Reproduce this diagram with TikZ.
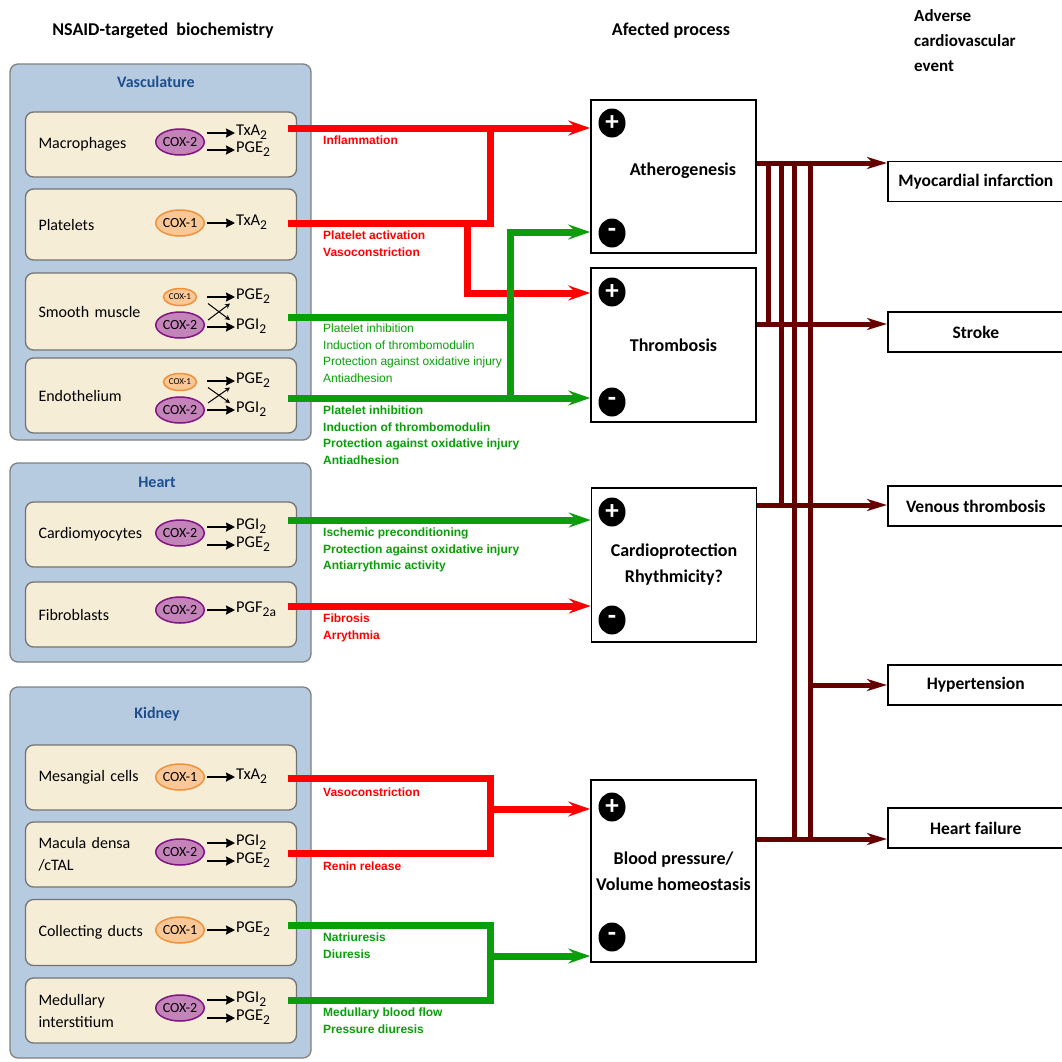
\documentclass[tikz,border=0pt]{standalone}
\usepackage{fontspec}
\setmainfont{Carlito}
\newfontfamily\arialfont{Liberation Sans}
\usepackage{tikz}
\usetikzlibrary{shapes,arrows.meta}
\definecolor{panelblue}{RGB}{182,203,224}
\definecolor{cellbeige}{RGB}{246,237,215}
\definecolor{titleblue}{RGB}{31,78,140}
\definecolor{coxtwofill}{RGB}{196,132,186}
\definecolor{coxtwoedge}{RGB}{128,20,128}
\definecolor{coxonefill}{RGB}{250,200,150}
\definecolor{coxoneedge}{RGB}{240,145,60}
\definecolor{inhred}{RGB}{255,0,0}
\definecolor{inhgreen}{RGB}{10,158,10}
\definecolor{busred}{RGB}{102,0,0}
\newcommand{\lowix}[1]{\raisebox{-0.5ex}{\fontsize{13.5}{13.5}\selectfont #1}}
\tikzstyle{panel} = [rectangle, draw=gray, fill=panelblue, rounded corners=8pt, line width=1.3pt, minimum width=301pt]
\tikzstyle{organ} = [font=\fontsize{16}{19}\selectfont\bfseries, text=titleblue]
\tikzstyle{cell} = [rectangle, draw=gray!90!black, fill=cellbeige, rounded corners=8pt, line width=1.3pt,
    text width=245pt, inner xsep=13pt, align=left, font=\fontsize{16}{22}\selectfont]
\tikzstyle{coxtwo} = [ellipse, draw=coxtwoedge, fill=coxtwofill, line width=1.5pt, inner sep=0pt,
    minimum width=47pt, minimum height=26pt, font=\fontsize{14}{14}\selectfont]
\tikzstyle{coxone} = [coxtwo, draw=coxoneedge, fill=coxonefill]
\tikzstyle{coxsmall} = [coxone, minimum width=33pt, minimum height=17pt, font=\fontsize{9}{10}\selectfont]
\tikzstyle{product} = [anchor=mid west, inner sep=1pt, font=\fontsize{16.5}{18}\selectfont]
\tikzstyle{process} = [rectangle, draw, line width=1.6pt, minimum width=165pt, align=center,
    font=\fontsize{18}{26}\selectfont\bfseries]
\tikzstyle{sign} = [ellipse, fill=black, text=white, minimum width=27pt, minimum height=29pt, inner sep=0pt,
    font=\fontsize{27}{27}\selectfont\bfseries]
\tikzstyle{event} = [rectangle, draw, line width=1.6pt, anchor=west, minimum width=176pt, minimum height=40pt,
    font=\fontsize{17.5}{20}\selectfont\bfseries]
\tikzstyle{effect} = [anchor=north west, inner sep=0pt, align=left, font=\arialfont\fontsize{12}{16.7}\selectfont\bfseries]
\tikzstyle{heading} = [font=\fontsize{18}{25}\selectfont\bfseries]
\tikzstyle{line} = [draw, line width=1.8pt, -{Stealth[length=9pt,width=9pt,inset=1pt]}]
\tikzstyle{thinline} = [draw, line width=1pt, -{Stealth[length=5pt,width=5pt]}]
\tikzstyle{redbar} = [draw=inhred, line width=7pt]
\tikzstyle{redline} = [redbar, -{Stealth[length=22pt,width=15pt,inset=8pt]}]
\tikzstyle{greenbar} = [draw=inhgreen, line width=7pt]
\tikzstyle{greenline} = [greenbar, -{Stealth[length=22pt,width=15pt,inset=8pt]}]
\tikzstyle{busbar} = [draw=busred, line width=5pt]
\tikzstyle{busline} = [busbar, -{Stealth[length=20pt,width=12pt,inset=6pt]}]
\begin{document}
\begin{tikzpicture}[x=1pt, y=-1pt]
    \useasboundingbox (0,0) rectangle (1062,1061);
    \clip (0,0) rectangle (1062,1061);
    \fill [white] (0,0) rectangle (1062,1061);

    % Place nodes
    \node [heading] (hdrleft) at (163,31) {NSAID-targeted~ biochemistry};
    \node [heading] (hdrmid) at (671,31) {Afected process};
    \node [heading, font=\fontsize{17}{25}\selectfont\bfseries, anchor=north west, align=left, inner sep=0pt] (hdrright) at (914,9) {Adverse\\cardiovascular\\event};

    % vasculature
    \node [panel, minimum height=376pt] (vasc) at (160.5,252) {};
    \node [organ] (vasctitle) at (156,82) {Vasculature};
    \node [cell, minimum height=65pt] (macro) at (161,144.5) {Macrophages};
    \node [cell, minimum height=71pt] (plat) at (161,224.5) {Platelets};
    \node [cell, minimum height=77pt] (smooth) at (161,311.5) {Smooth muscle};
    \node [cell, minimum height=75pt] (endo) at (161,395.5) {Endothelium};
    \node [coxtwo] (macroc) at (180,142) {COX-2};
    \node [product] (macrop1) at (235,133) {TxA\lowix{2}};
    \node [product] (macrop2) at (235,150) {PGE\lowix{2}};
    \node [coxone] (platc) at (180,223) {COX-1};
    \node [product] (platp) at (235,223) {TxA\lowix{2}};
    \node [coxsmall] (smoothc1) at (180,297) {COX-1};
    \node [coxtwo] (smoothc2) at (180,325) {COX-2};
    \node [product] (smoothp1) at (235,297) {PGE\lowix{2}};
    \node [product] (smoothp2) at (235,327) {PGI\lowix{2}};
    \node [coxsmall] (endoc1) at (180,382) {COX-1};
    \node [coxtwo] (endoc2) at (180,410) {COX-2};
    \node [product] (endop1) at (235,381) {PGE\lowix{2}};
    \node [product] (endop2) at (235,410) {PGI\lowix{2}};

    % heart
    \node [panel, minimum height=199pt] (heart) at (160.5,562.5) {};
    \node [organ] (hearttitle) at (157,482) {Heart};
    \node [cell, minimum height=65pt] (cmyo) at (161,534.5) {Cardiomyocytes};
    \node [cell, minimum height=65pt] (fibro) at (161,614.5) {Fibroblasts};
    \node [coxtwo] (cmyoc) at (180,533) {COX-2};
    \node [product] (cmyop1) at (235,527) {PGI\lowix{2}};
    \node [product] (cmyop2) at (235,545) {PGE\lowix{2}};
    \node [coxtwo] (fibroc) at (180,610) {COX-2};
    \node [product] (fibrop) at (235,610) {PGF\lowix{2a}};

    % kidney
    \node [panel, minimum height=371pt] (kidney) at (160.5,872.5) {};
    \node [organ] (kidneytitle) at (157,714) {Kidney};
    \node [cell, minimum height=65pt] (mesang) at (161,777.5) {Mesangial cells};
    \node [cell, minimum height=65pt] (macden) at (161,854.5) {Macula densa\\/cTAL};
    \node [cell, minimum height=66pt] (colduct) at (161,932.5) {Collecting ducts};
    \node [cell, minimum height=65pt] (medint) at (161,1010.5) {Medullary\\interstitium};
    \node [coxone] (mesangc) at (180,777) {COX-1};
    \node [product] (mesangp) at (235,777) {TxA\lowix{2}};
    \node [coxtwo] (macdenc) at (180,852) {COX-2};
    \node [product] (macdenp1) at (235,843) {PGI\lowix{2}};
    \node [product] (macdenp2) at (235,861) {PGE\lowix{2}};
    \node [coxone] (colductc) at (180,930) {COX-1};
    \node [product] (colductp) at (235,930) {PGE\lowix{2}};
    \node [coxtwo] (medintc) at (180,1008) {COX-2};
    \node [product] (medintp1) at (235,1000) {PGI\lowix{2}};
    \node [product] (medintp2) at (235,1018) {PGE\lowix{2}};

    % affected processes
    \node [process, minimum height=153pt] (athero) at (673.5,176.5) {\hspace*{19pt}\raisebox{6pt}[\height][\depth]{Atherogenesis}};
    \node [process, minimum height=154pt] (thromb) at (673.5,345) {Thrombosis};
    \node [process, minimum height=154pt] (cardprot) at (674,565) {Cardioprotection\\Rhythmicity?};
    \node [process, minimum height=182pt] (bpvol) at (673.5,871) {Blood pressure/\\Volume homeostasis};
    \node [sign] (atheroplus) at (612,123) {+};
    \node [sign] (atherominus) at (612,233) {-};
    \node [sign] (thrombplus) at (612,292) {+};
    \node [sign] (thrombminus) at (612,402) {-};
    \node [sign] (cardprotplus) at (612,512) {+};
    \node [sign] (cardprotminus) at (612,620) {-};
    \node [sign] (bpvolplus) at (612,807) {+};
    \node [sign] (bpvolminus) at (612,937) {-};

    % adverse events
    \node [event] (mi) at (887,181.5) {Myocardial infarction};
    \node [event] (stroke) at (887,332) {Stroke};
    \node [event] (vt) at (887,506) {Venous thrombosis};
    \node [event] (hyp) at (887,685) {Hypertension};
    \node [event] (hf) at (887,828) {Heart failure};

    % effect labels
    \node [effect, text=inhred] (inflam) at (323,135.5) {Inflammation};
    \node [effect, text=inhred] (platact) at (323,230.5) {Platelet activation\\Vasoconstriction};
    \node [effect, text=inhgreen, font=\arialfont\fontsize{12}{16.7}\selectfont] (smootheff) at (323,323.5)
        {Platelet inhibition\\Induction of thrombomodulin\\Protection against oxidative injury\\Antiadhesion};
    \node [effect, text=inhgreen] (endoeff) at (323,405.5)
        {Platelet inhibition\\Induction of thrombomodulin\\Protection against oxidative injury\\Antiadhesion};
    \node [effect, text=inhgreen] (cmyoeff) at (323,527.5)
        {Ischemic preconditioning\\Protection against oxidative injury\\Antiarrythmic activity};
    \node [effect, text=inhred] (fibroeff) at (323,613.5) {Fibrosis\\Arrythmia};
    \node [effect, text=inhred] (mesangeff) at (323,787.5) {Vasoconstriction};
    \node [effect, text=inhred] (macdeneff) at (323,861.5) {Renin release};
    \node [effect, text=inhgreen] (colducteff) at (323,932.5) {Natriuresis\\Diuresis};
    \node [effect, text=inhgreen] (medinteff) at (323,1007.5) {Medullary blood flow\\Pressure diuresis};

    % Draw edges
    \foreach \p in {macrop1,macrop2,platp,smoothp1,smoothp2,endop1,endop2,cmyop1,cmyop2,fibrop,
                    mesangp,macdenp1,macdenp2,colductp,medintp1,medintp2}
        \path [line] ([xshift=-28pt]\p.mid west) -- (\p.mid west);
    \foreach \cel in {smooth,endo} {
        \path [thinline] ([xshift=-27pt,yshift=-6.5pt]\cel p1.mid west) -- ([xshift=-5pt,yshift=7pt]\cel p2.mid west);
        \path [thinline] ([xshift=-27pt,yshift=7pt]\cel p2.mid west) -- ([xshift=-5pt,yshift=-6.5pt]\cel p1.mid west);
    }

    \coordinate (vasjoin) at (490,128);
    \coordinate (vassplit) at (467,223);
    \coordinate (vasgreen) at (510,317);
    \coordinate (vasgreenbase) at (510,398);
    \path [redline] ([xshift=-9pt,yshift=16.5pt]macro.east) -- ([yshift=48.5pt]athero.west);
    \path [redbar] ([xshift=-9pt,yshift=1.5pt]plat.east) -| (vasjoin);
    \path [redline] (vassplit) |- ([yshift=52pt]thromb.west);
    \path [greenbar] ([xshift=-9pt,yshift=-5.5pt]smooth.east) -- (vasgreen);
    \path [greenline] ([xshift=-9pt,yshift=-2.5pt]endo.east) -- ([yshift=-53pt]thromb.west);
    \path [greenline] (vasgreenbase) |- ([yshift=-55.5pt]athero.west);

    \path [greenline] ([xshift=-9pt,yshift=14.5pt]cmyo.east) -- ([yshift=45pt]cardprot.west);
    \path [redline] ([xshift=-9pt,yshift=8.5pt]fibro.east) -- ([yshift=-41pt]cardprot.west);

    \coordinate (kidredtop) at (490,778);
    \coordinate (kidredbot) at (490,853);
    \coordinate (kidredmid) at (490,809);
    \coordinate (kidgreentop) at (490,925);
    \coordinate (kidgreenbot) at (490,1000);
    \coordinate (kidgreenmid) at (490,956);
    \path [redbar] ([xshift=-9pt,yshift=-0.5pt]mesang.east) -- (kidredtop) -- (kidredbot) -- ([xshift=-9pt,yshift=1.5pt]macden.east);
    \path [redline] (kidredmid) -- ([yshift=62pt]bpvol.west);
    \path [greenbar] ([xshift=-9pt,yshift=7.5pt]colduct.east) -- (kidgreentop) -- (kidgreenbot) -- ([xshift=-9pt,yshift=10.5pt]medint.east);
    \path [greenline] (kidgreenmid) -- ([yshift=-85pt]bpvol.west);

    \coordinate (athout) at ([yshift=13.5pt]athero.east);
    \coordinate (throut) at ([yshift=21pt]thromb.east);
    \coordinate (cardout) at ([yshift=60pt]cardprot.east);
    \coordinate (bpout) at ([yshift=32pt]bpvol.east);
    \coordinate (busa) at (768,0);
    \coordinate (busb) at (781,0);
    \coordinate (busc) at (794,0);
    \coordinate (busd) at (810,0);
    \path [busline] (athout) -- (athout -| mi.west);
    \path [busline] (throut) -- (throut -| stroke.west);
    \path [busline] (cardout) -- (cardout -| vt.west);
    \path [busline] (hyp.west -| busd) -- (hyp.west);
    \path [busline] (bpout) -- (bpout -| hf.west);
    \foreach \bus/\stop in {busa/throut, busb/cardout, busc/bpout, busd/bpout}
        \path [busbar] (athout -| \bus) -- (\stop -| \bus);
\end{tikzpicture}
\end{document}
